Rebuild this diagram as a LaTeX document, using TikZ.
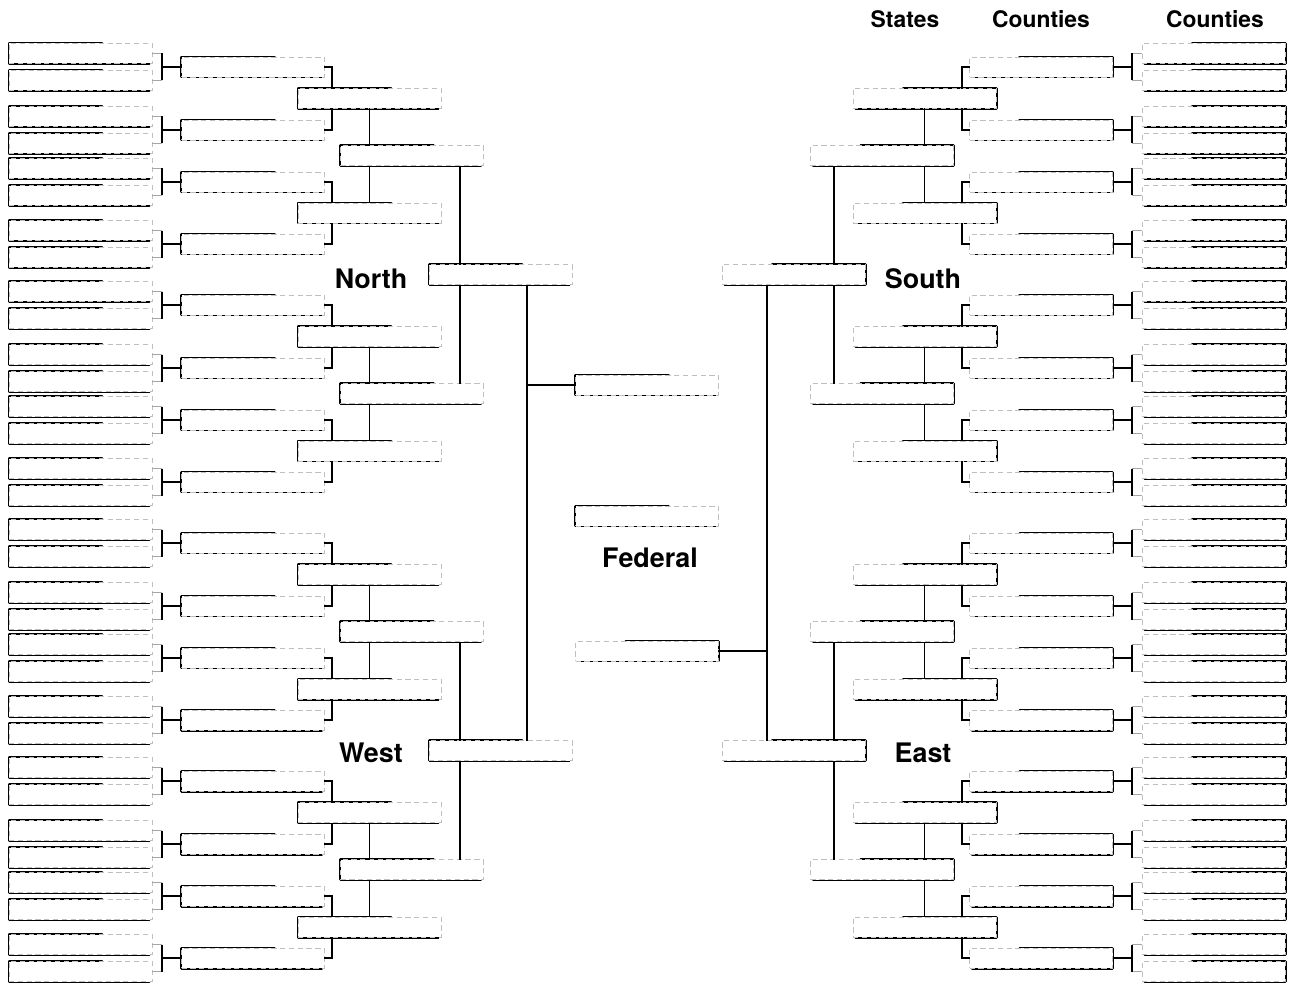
\documentclass[tikz,border=0pt]{standalone}
\usepackage{fontspec}
\setmainfont{TeX Gyre Heros}
\usetikzlibrary{calc}

\begin{document}
\begin{tikzpicture}[x=0.02cm, y=-0.02cm,
  box/.style={draw=gray!50, densely dashed, line width=.45pt, fill=white,
    minimum width=2.86cm, minimum height=.4cm, inner sep=0pt, outer sep=0pt,
    append after command={\pgfextra{%
      \draw[rim] ($(\tikzlastnode.north)+({21.5*(#1)},0)$)
        -- ($(\tikzlastnode.north)+({-71.5*(#1)},0)$)
        -- ($(\tikzlastnode.south)+({-71.5*(#1)},0)$)
        -- ($(\tikzlastnode.south)+({69*(#1)},0)$);}}},
  rim/.style={draw=black, solid, line width=1.7pt, line join=round, line cap=round},
  link/.style={draw=black, solid, line width=1pt},
  stub/.style={draw=gray!70, solid, line width=.5pt},
  head/.style={font=\fontsize{13}{15}\selectfont\bfseries, anchor=base},
  zone/.style={font=\fontsize{15.3}{18}\selectfont\bfseries, anchor=base}]
  \useasboundingbox (0,0) rectangle (1290,983);

  \foreach \side/\dir/\inn/\out/\za/\zb in {L/1/east/west/North/West, R/-1/west/east/South/East}{
    \coordinate (kx\side) at ({647-485*\dir},0);
    \coordinate (ax\side) at ({647-315*\dir},0);
    \coordinate (cx\side) at ({647-187*\dir},0);
    \coordinate (fx\side) at ({647-120*\dir},0);
    % counties, two per bracket
    \foreach \p [count=\i] in {67,130,182,244,305,368,420,482,543,606,658,720,781,844,896,958}{
      \pgfmathtruncatemacro\na{2*\i-1}
      \pgfmathtruncatemacro\nb{2*\i}
      \node[box=\dir] (cty\side\na) at ({647-566.5*\dir},\p-13.5) {};
      \node[box=\dir] (cty\side\nb) at ({647-566.5*\dir},\p+13.5) {};
      \node[box=\dir] (cou\side\i) at ({647-394*\dir},\p) {};
      \draw[stub] (cty\side\na.\inn) -- (cty\side\na -| kx\side);
      \draw[stub] (cty\side\nb.\inn) -- (cty\side\nb -| kx\side);
      \draw[link, line width=1.3pt] (cty\side\na -| kx\side) -- (cty\side\nb -| kx\side);
      \draw[link, line width=1.3pt] (cou\side\i -| kx\side) -- (cou\side\i.\out);
    }
    % states
    \foreach \y [count=\j] in {98.5,213,336.5,451,574.5,689,812.5,927}{
      \pgfmathtruncatemacro\ka{2*\j-1}
      \pgfmathtruncatemacro\kb{2*\j}
      \node[box=\dir] (sta\side\j) at ({647-277.5*\dir},\y) {};
      \draw[link] (cou\side\ka.\inn) -| (sta\side\j.north -| ax\side);
      \draw[link] (cou\side\kb.\inn) -| (sta\side\j.south -| ax\side);
    }
    \foreach \y [count=\q] in {155.75,393.75,631.75,869.75}{
      \pgfmathtruncatemacro\ma{2*\q-1}
      \pgfmathtruncatemacro\mb{2*\q}
      \node[box=\dir] (sec\side\q) at ({647-235*\dir},\y) {};
      \draw[link] (sta\side\ma.south) -- (sec\side\q.north -| sta\side\ma);
      \draw[link] (sec\side\q.south -| sta\side\mb) -- (sta\side\mb.north);
    }
    % regions
    \node[box=\dir] (reg\side1) at ({647-146.5*\dir},274.75) {};
    \node[box=\dir] (reg\side2) at ({647-146.5*\dir},750.75) {};
    \draw[link] (sec\side1.south -| cx\side) -- (reg\side1.north -| cx\side);
    \draw[link] (reg\side1.south -| cx\side) -- (sec\side2.north -| cx\side);
    \draw[link] (sec\side3.south -| cx\side) -- (reg\side2.north -| cx\side);
    \draw[link] (reg\side2.south -| cx\side) -- (sec\side4.north -| cx\side);
    \draw[link] (reg\side1.south -| fx\side) -- (reg\side2.north -| fx\side);
    \node[zone] (lab\side1) at ({647-276*\dir},288) {\za};
    \node[zone] (lab\side2) at ({647-276*\dir},762) {\zb};
  }

  \node[box=1] (fed1) at (647,385) {};
  \node[box=1] (fed2) at (647,516) {};
  \node[box=-1] (fed3) at (647,651) {};
  \draw[link] (fed1.west -| fxL) -- (fed1.west);
  \draw[link] (fed3.east -| fxR) -- (fed3.east);
  \node[zone] (fedlab) at (650,567) {Federal};

  \node[head] (hstate) at (905,28) {States};
  \node[head] (hcounty) at (1041,28) {Counties};
  \node[head] (hlocal) at (1215,28) {Counties};
\end{tikzpicture}
\end{document}
